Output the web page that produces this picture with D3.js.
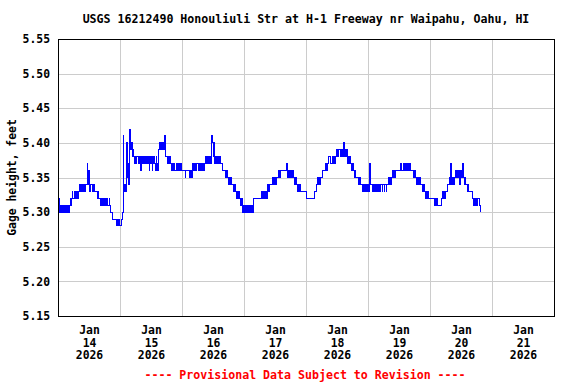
<!DOCTYPE html>
<html>
<head>
<meta charset="utf-8">
<script src="https://cdn.jsdelivr.net/npm/d3@7"></script>
<style>
  body { margin: 0; background: #fff; }
  text { font-family: "DejaVu Sans Mono", "Liberation Mono", monospace; font-weight: bold; }
</style>
</head>
<body>
<div id="chart"></div>
<script>
// Gage height, feet, every 15 minutes (UTC day by day)
var jan14 = [5.29,5.32,5.31,5.30, 5.31,5.30,5.31,5.30, 5.30,5.31,5.30,5.31, 5.30,5.31,5.30,5.30,
  5.31,5.30,5.31,5.32, 5.31,5.32,5.33,5.32, 5.32,5.33,5.32,5.33, 5.33,5.32,5.33,5.32,
  5.33,5.33,5.34,5.33, 5.34,5.33,5.34,5.34, 5.33,5.34,5.33,5.34, 5.34,5.37,5.34,5.36,
  5.33,5.34,5.33,5.34, 5.34,5.33,5.34,5.33, 5.34,5.33,5.33,5.33, 5.33,5.32,5.33,5.32,
  5.32,5.32,5.31,5.32, 5.31,5.32,5.31,5.32, 5.31,5.31,5.32,5.31, 5.32,5.31,5.31,5.32,
  5.31,5.31,5.30,5.30, 5.30,5.29,5.29,5.29, 5.29,5.29,5.28,5.29, 5.28,5.28,5.29,5.28];
var jan15 = [5.28,5.28,5.28,5.29, 5.30,5.41,5.34,5.33, 5.34,5.33,5.40,5.35, 5.37,5.34,5.36,5.42,
  5.40,5.39,5.40,5.38, 5.39,5.38,5.38,5.37, 5.38,5.37,5.38,5.38, 5.37,5.38,5.37,5.38,
  5.36,5.38,5.37,5.38, 5.37,5.38,5.37,5.38, 5.37,5.38,5.37,5.38, 5.37,5.36,5.38,5.37,
  5.38,5.37,5.36,5.38, 5.37,5.38,5.37,5.36, 5.38,5.37,5.36,5.38, 5.39,5.40,5.39,5.40,
  5.39,5.40,5.39,5.40, 5.39,5.41,5.38,5.38, 5.38,5.38,5.37,5.38, 5.37,5.38,5.37,5.36,
  5.37,5.36,5.37,5.36, 5.37,5.36,5.36,5.37, 5.36,5.37,5.36,5.37, 5.36,5.36,5.37,5.36];
var jan16 = [5.36,5.36,5.36,5.36, 5.36,5.35,5.36,5.36, 5.36,5.36,5.36,5.35, 5.36,5.35,5.36,5.35,
  5.36,5.37,5.36,5.37, 5.36,5.37,5.36,5.37, 5.37,5.36,5.37,5.36, 5.37,5.36,5.37,5.36,
  5.37,5.37,5.36,5.37, 5.37,5.38,5.37,5.38, 5.37,5.38,5.37,5.38, 5.37,5.38,5.41,5.40,
  5.38,5.40,5.38,5.37, 5.38,5.37,5.38,5.37, 5.38,5.37,5.38,5.38, 5.37,5.37,5.37,5.36,
  5.36,5.36,5.36,5.35, 5.36,5.35,5.36,5.35, 5.34,5.35,5.34,5.35, 5.34,5.34,5.34,5.33,
  5.34,5.33,5.34,5.33, 5.33,5.32,5.33,5.32, 5.33,5.32,5.32,5.31, 5.32,5.31,5.30,5.31];
var jan17 = [5.30,5.31,5.30,5.31, 5.30,5.30,5.31,5.30, 5.31,5.30,5.31,5.30, 5.31,5.30,5.32,5.32,
  5.32,5.32,5.32,5.32, 5.32,5.32,5.32,5.32, 5.32,5.32,5.32,5.33, 5.32,5.33,5.32,5.32,
  5.33,5.32,5.33,5.32, 5.33,5.34,5.33,5.34, 5.34,5.34,5.34,5.34, 5.35,5.34,5.35,5.34,
  5.35,5.34,5.35,5.35, 5.35,5.35,5.36,5.35, 5.36,5.36,5.36,5.36, 5.36,5.36,5.36,5.36,
  5.36,5.36,5.37,5.36, 5.35,5.36,5.35,5.36, 5.35,5.36,5.35,5.36, 5.35,5.35,5.34,5.35,
  5.34,5.35,5.34,5.33, 5.34,5.33,5.34,5.33, 5.33,5.33,5.33,5.33, 5.33,5.33,5.33,5.33];
var jan18 = [5.33,5.32,5.32,5.32, 5.32,5.32,5.32,5.32, 5.32,5.32,5.32,5.32, 5.32,5.33,5.33,5.33,
  5.34,5.34,5.35,5.34, 5.35,5.34,5.35,5.35, 5.35,5.36,5.36,5.36, 5.36,5.36,5.37,5.36,
  5.37,5.36,5.37,5.38, 5.38,5.38,5.37,5.37, 5.37,5.38,5.37,5.38, 5.37,5.38,5.38,5.39,
  5.38,5.39,5.38,5.39, 5.39,5.38,5.39,5.38, 5.39,5.38,5.40,5.39, 5.38,5.39,5.38,5.39,
  5.38,5.37,5.38,5.37, 5.38,5.37,5.36,5.37, 5.36,5.37,5.36,5.35, 5.36,5.35,5.35,5.35,
  5.35,5.34,5.35,5.34, 5.35,5.34,5.34,5.34, 5.33,5.34,5.33,5.34, 5.33,5.34,5.33,5.34];
var jan19 = [5.34,5.33,5.34,5.37, 5.34,5.34,5.34,5.33, 5.34,5.33,5.34,5.33, 5.34,5.33,5.34,5.33,
  5.34,5.33,5.34,5.33, 5.34,5.34,5.33,5.34, 5.34,5.33,5.34,5.34, 5.33,5.34,5.34,5.35,
  5.34,5.35,5.35,5.34, 5.35,5.35,5.36,5.35, 5.36,5.35,5.36,5.36, 5.36,5.36,5.36,5.36,
  5.36,5.36,5.36,5.37, 5.36,5.36,5.36,5.37, 5.36,5.37,5.36,5.37, 5.36,5.37,5.36,5.37,
  5.36,5.37,5.36,5.36, 5.36,5.36,5.35,5.36, 5.35,5.36,5.35,5.34, 5.35,5.34,5.35,5.34,
  5.35,5.34,5.34,5.34, 5.33,5.34,5.33,5.34, 5.33,5.32,5.33,5.32, 5.33,5.32,5.32,5.32];
var jan20 = [5.32,5.32,5.32,5.32, 5.32,5.32,5.32,5.31, 5.32,5.31,5.32,5.31, 5.31,5.31,5.31,5.31,
  5.31,5.31,5.32,5.32, 5.33,5.32,5.33,5.32, 5.33,5.33,5.33,5.34, 5.34,5.34,5.35,5.34,
  5.37,5.34,5.35,5.34, 5.35,5.34,5.35,5.36, 5.35,5.36,5.35,5.36, 5.35,5.36,5.34,5.36,
  5.35,5.36,5.35,5.37, 5.35,5.34,5.35,5.34, 5.34,5.34,5.33,5.34, 5.33,5.33,5.33,5.33,
  5.33,5.33,5.32,5.32, 5.31,5.32,5.31,5.32, 5.31,5.32,5.32,5.32, 5.31,5.31,5.30];

var yTicks = [5.15, 5.20, 5.25, 5.30, 5.35, 5.40, 5.45, 5.50, 5.55];
var dayLabels = ["Jan 14", "Jan 15", "Jan 16", "Jan 17", "Jan 18", "Jan 19", "Jan 20", "Jan 21"];
var year = "2026";

var title = "USGS 16212490 Honouliuli Str at H-1 Freeway nr Waipahu, Oahu, HI";
var yTitle = "Gage height, feet";
var note = "---- Provisional Data Subject to Revision ----";

// Layout ================================================================
var W = 576, H = 384;
var margin = {top: 39, right: 22, bottom: 68, left: 58};
var innerW = W - margin.left - margin.right,
    innerH = H - margin.top - margin.bottom;

var start = new Date(Date.UTC(2026, 0, 14));
var end = new Date(Date.UTC(2026, 0, 22));

var series = [].concat(jan14, jan15, jan16, jan17, jan18, jan19, jan20);
var data = series.map(function (v, i) {
	return {t: new Date(start.getTime() + i * 15 * 60000), v: v};
});

var x = d3.scaleUtc().domain([start, end]).range([0, innerW]);
var y = d3.scaleLinear().domain([5.15, 5.55]).range([innerH, 0]);

var svg = d3.select("#chart").append("svg")
	.attr("width", W)
	.attr("height", H);

var g = svg.append("g")
	.attr("transform", "translate(" + margin.left + "," + margin.top + ")");

// Grid lines
g.append("g")
	.attr("class", "ygrid")
	.call(d3.axisLeft(y).tickValues(yTicks).tickSize(-innerW).tickFormat(""))
	.call(function (s) {
		s.select(".domain").remove();
		s.selectAll("line").attr("stroke", "#cccccc").attr("shape-rendering", "crispEdges");
	});

g.append("g")
	.attr("class", "xgrid")
	.attr("transform", "translate(0," + innerH + ")")
	.call(d3.axisBottom(x).tickValues(d3.utcDay.range(start, end)).tickSize(-innerH).tickFormat(""))
	.call(function (s) {
		s.select(".domain").remove();
		s.selectAll("line").attr("stroke", "#cccccc").attr("shape-rendering", "crispEdges");
	});

// Gage height line
var line = d3.line()
	.x(function (d) { return x(d.t); })
	.y(function (d) { return y(d.v); })
	.curve(d3.curveStepAfter);

g.append("path")
	.datum(data)
	.attr("fill", "none")
	.attr("stroke", "#0000ff")
	.attr("stroke-width", 1)
	.attr("shape-rendering", "crispEdges")
	.attr("d", line);

// Frame
g.append("rect")
	.attr("x", 0)
	.attr("y", 0)
	.attr("width", innerW)
	.attr("height", innerH)
	.attr("fill", "none")
	.attr("stroke", "#000")
	.attr("shape-rendering", "crispEdges");

// Y axis labels
g.append("g")
	.call(d3.axisLeft(y).tickValues(yTicks).tickSize(0).tickPadding(8).tickFormat(d3.format(".2f")))
	.call(function (s) {
		s.select(".domain").remove();
		s.selectAll("text")
			.attr("fill", "#000")
			.style("font-size", "11.4px");
	});

// X axis labels, at noon of each day
var noons = dayLabels.map(function (d, i) {
	return d3.utcHour.offset(d3.utcDay.offset(start, i), 12);
});

var xAxis = g.append("g")
	.attr("transform", "translate(0," + innerH + ")")
	.call(d3.axisBottom(x).tickValues(noons).tickSize(0).tickFormat(""));
xAxis.select(".domain").remove();

xAxis.selectAll(".tick").each(function (d, i) {
	var parts = dayLabels[i].split(" ");
	var t = d3.select(this).select("text")
		.attr("y", null)
		.attr("dy", null)
		.attr("fill", "#000")
		.style("font-size", "11.4px");
	[parts[0], parts[1], year].forEach(function (p, k) {
		t.append("tspan")
			.attr("x", 0)
			.attr("y", 18 + k * 12.5)
			.text(p);
	});
});

// Titles
svg.append("text")
	.attr("x", 306)
	.attr("y", 23)
	.attr("text-anchor", "middle")
	.style("font-size", "11.6px")
	.text(title);

svg.append("text")
	.attr("transform", "translate(16," + (margin.top + innerH / 2) + ") rotate(-90)")
	.attr("text-anchor", "middle")
	.style("font-size", "11.4px")
	.text(yTitle);

svg.append("text")
	.attr("x", 305)
	.attr("y", 379)
	.attr("text-anchor", "middle")
	.attr("fill", "#ff0000")
	.style("font-size", "11.6px")
	.text(note);
</script>
</body>
</html>
